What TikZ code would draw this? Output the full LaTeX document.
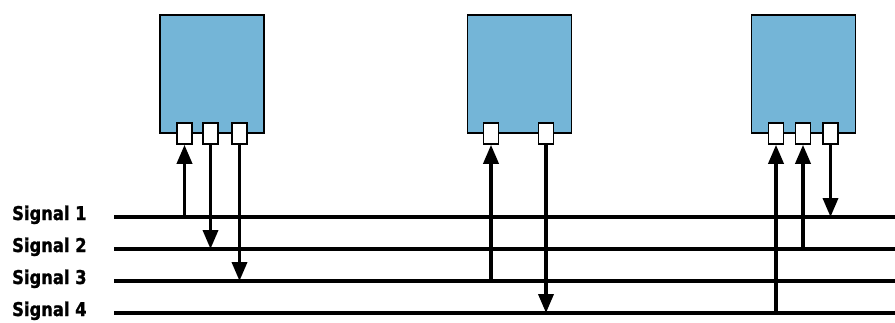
\documentclass[tikz,border=0pt]{standalone}
\usepackage{fontspec}
\usepackage{tikz}
\usetikzlibrary{positioning,arrows.meta}
\newfontfamily\siglabelfont{DejaVu Sans}[FakeStretch=0.86, BoldFeatures={FakeBold=1.2}]
\definecolor{unitblue}{HTML}{74B5D7}

\begin{document}
\begin{tikzpicture}[x=1pt,y=1pt,
    unit/.style={draw, line width=1.6pt, fill=unitblue, minimum width=104pt, minimum height=118pt, inner sep=0pt},
    port/.style={draw, line width=1.6pt, fill=white, minimum width=15pt, minimum height=21pt, inner sep=0pt},
    bus/.style={line width=3.2pt},
    link/.style={line width=3.6pt, -{Triangle[length=19pt,width=15pt]}},
    siglabel/.style={anchor=base west, inner sep=0pt, font=\siglabelfont\bfseries\fontsize{19}{22}\selectfont}]
          \useasboundingbox (0,0) rectangle (895,322);

          \node[unit] (u1) at (212,248) {};
          \node[unit] (u2) at (519.5,248) {};
          \node[unit] (u3) at (803.5,248) {};

          \node[port] (p11) at (184.5,188.5) {};
          \node[port] (p12) at (210.5,188.5) {};
          \node[port] (p13) at (239.5,188.5) {};
          \node[port] (p21) at (491,188.5) {};
          \node[port] (p22) at (546,188.5) {};
          \node[port] (p31) at (776,188.5) {};
          \node[port] (p32) at (803,188.5) {};
          \node[port] (p33) at (830.5,188.5) {};

          \node[siglabel] (l1) at (12,102) {Signal 1};
          \node[siglabel] (l2) at (12,70) {Signal 2};
          \node[siglabel] (l3) at (12,38) {Signal 3};
          \node[siglabel] (l4) at (12,6) {Signal 4};

          \coordinate (s1) at (114,105);
          \coordinate (s2) at (114,73);
          \coordinate (s3) at (114,41);
          \coordinate (s4) at (114,9);
          \coordinate (e1) at (895,105);
          \coordinate (e2) at (895,73);
          \coordinate (e3) at (895,41);
          \coordinate (e4) at (895,9);

          \draw [bus] (s1) -- (e1);
          \draw [bus] (s2) -- (e2);
          \draw [bus] (s3) -- (e3);
          \draw [bus] (s4) -- (e4);

          \draw [link] (p11.south |- s1) -- (p11.south);
          \draw [link] (p12.south) -- (p12.south |- s2);
          \draw [link] (p13.south) -- (p13.south |- s3);
          \draw [link] (p21.south |- s3) -- (p21.south);
          \draw [link] (p22.south) -- (p22.south |- s4);
          \draw [link] (p31.south |- s4) -- (p31.south);
          \draw [link] (p32.south |- s2) -- (p32.south);
          \draw [link] (p33.south) -- (p33.south |- s1);
        \end{tikzpicture}
\end{document}
